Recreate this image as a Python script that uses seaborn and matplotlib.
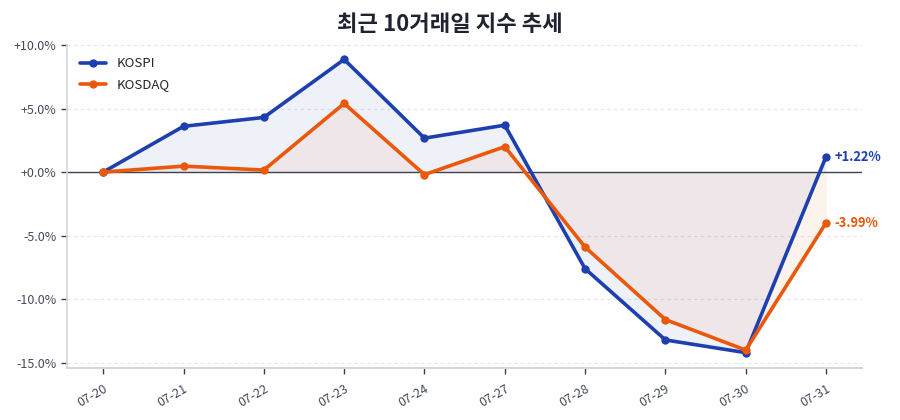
import matplotlib
matplotlib.use("Agg")
import matplotlib.pyplot as plt
import pandas as pd
import seaborn as sns
from matplotlib.ticker import FuncFormatter

# Data: cumulative change (%) over the last 10 trading days
dates = ["07-20", "07-21", "07-22", "07-23", "07-24",
         "07-27", "07-28", "07-29", "07-30", "07-31"]
kospi = [0.0, 3.6, 4.3, 8.86, 2.67, 3.69, -7.6, -13.2, -14.2, 1.22]
kosdaq = [0.0, 0.47, 0.16, 5.4, -0.2, 2.0, -5.9, -11.6, -14.0, -3.99]

KOSPI_COLOR = "#1e40af"
KOSDAQ_COLOR = "#ea580c"

sns.set_theme(style="white")
plt.rcParams["font.family"] = ["Noto Sans CJK KR", "DejaVu Sans"]

df = pd.DataFrame({
    "pos": list(range(len(dates))) * 2,
    "change": kospi + kosdaq,
    "index": ["KOSPI"] * len(dates) + ["KOSDAQ"] * len(dates),
})

fig = plt.figure(figsize=(9, 4.2), dpi=100)
ax = fig.add_axes([0.0745, 0.124, 0.8835, 0.769])

positions = list(range(len(dates)))
ax.fill_between(positions, kospi, 0, color=KOSPI_COLOR, alpha=0.07, linewidth=0)
ax.fill_between(positions, kosdaq, 0, color=KOSDAQ_COLOR, alpha=0.07, linewidth=0)

ax.axhline(0, color="#3b4252", linewidth=1.0, zorder=1)

sns.lineplot(data=df, x="pos", y="change", hue="index",
             palette={"KOSPI": KOSPI_COLOR, "KOSDAQ": KOSDAQ_COLOR},
             marker="o", markersize=6, markeredgewidth=0, linewidth=2.6, ax=ax)

# Last value labels
ax.annotate(f"{kospi[-1]:+.2f}%", (positions[-1], kospi[-1]), xytext=(6, 0),
            textcoords="offset points", va="center", ha="left",
            color=KOSPI_COLOR, fontsize=9.3, fontweight="bold")
ax.annotate(f"{kosdaq[-1]:+.2f}%", (positions[-1], kosdaq[-1]), xytext=(6, 0),
            textcoords="offset points", va="center", ha="left",
            color=KOSDAQ_COLOR, fontsize=9.3, fontweight="bold")

ax.set_xlim(-0.45, len(dates) - 1 + 0.45)
ax.set_ylim(-15.4, 10.0)
ax.set_yticks([10, 5, 0, -5, -10, -15])
ax.yaxis.set_major_formatter(FuncFormatter(lambda v, _: f"{v:+.1f}%"))
ax.set_xticks(positions)
ax.set_xticklabels(dates, rotation=30, ha="right", rotation_mode="anchor")
ax.tick_params(axis="both", colors="#3b4252", labelsize=9, length=4, width=1,
               direction="out", left=True, bottom=True)
ax.tick_params(axis="y", labelcolor="#444b58")
ax.tick_params(axis="x", labelcolor="#444b58", pad=6)

ax.grid(axis="y", linestyle=(0, (3, 3)), color="#e3e6ea", linewidth=0.8)
ax.set_axisbelow(True)

for side in ["top", "right"]:
    ax.spines[side].set_visible(False)
ax.spines["left"].set_color("#d3d7de")
ax.spines["bottom"].set_color("#d3d7de")
ax.spines["left"].set_linewidth(1.2)
ax.spines["bottom"].set_linewidth(1.5)

ax.set_xlabel("")
ax.set_ylabel("")

handles, labels = ax.get_legend_handles_labels()
ax.legend(handles, labels, loc="upper left", frameon=False, fontsize=9.5,
          handlelength=2.0, handletextpad=0.8, borderaxespad=0.55,
          labelspacing=0.6)

fig.suptitle("최근 10거래일 지수 추세", fontsize=16, fontweight="bold",
             color="#1f2430", y=0.97)

fig.savefig("out.png", dpi=100)
